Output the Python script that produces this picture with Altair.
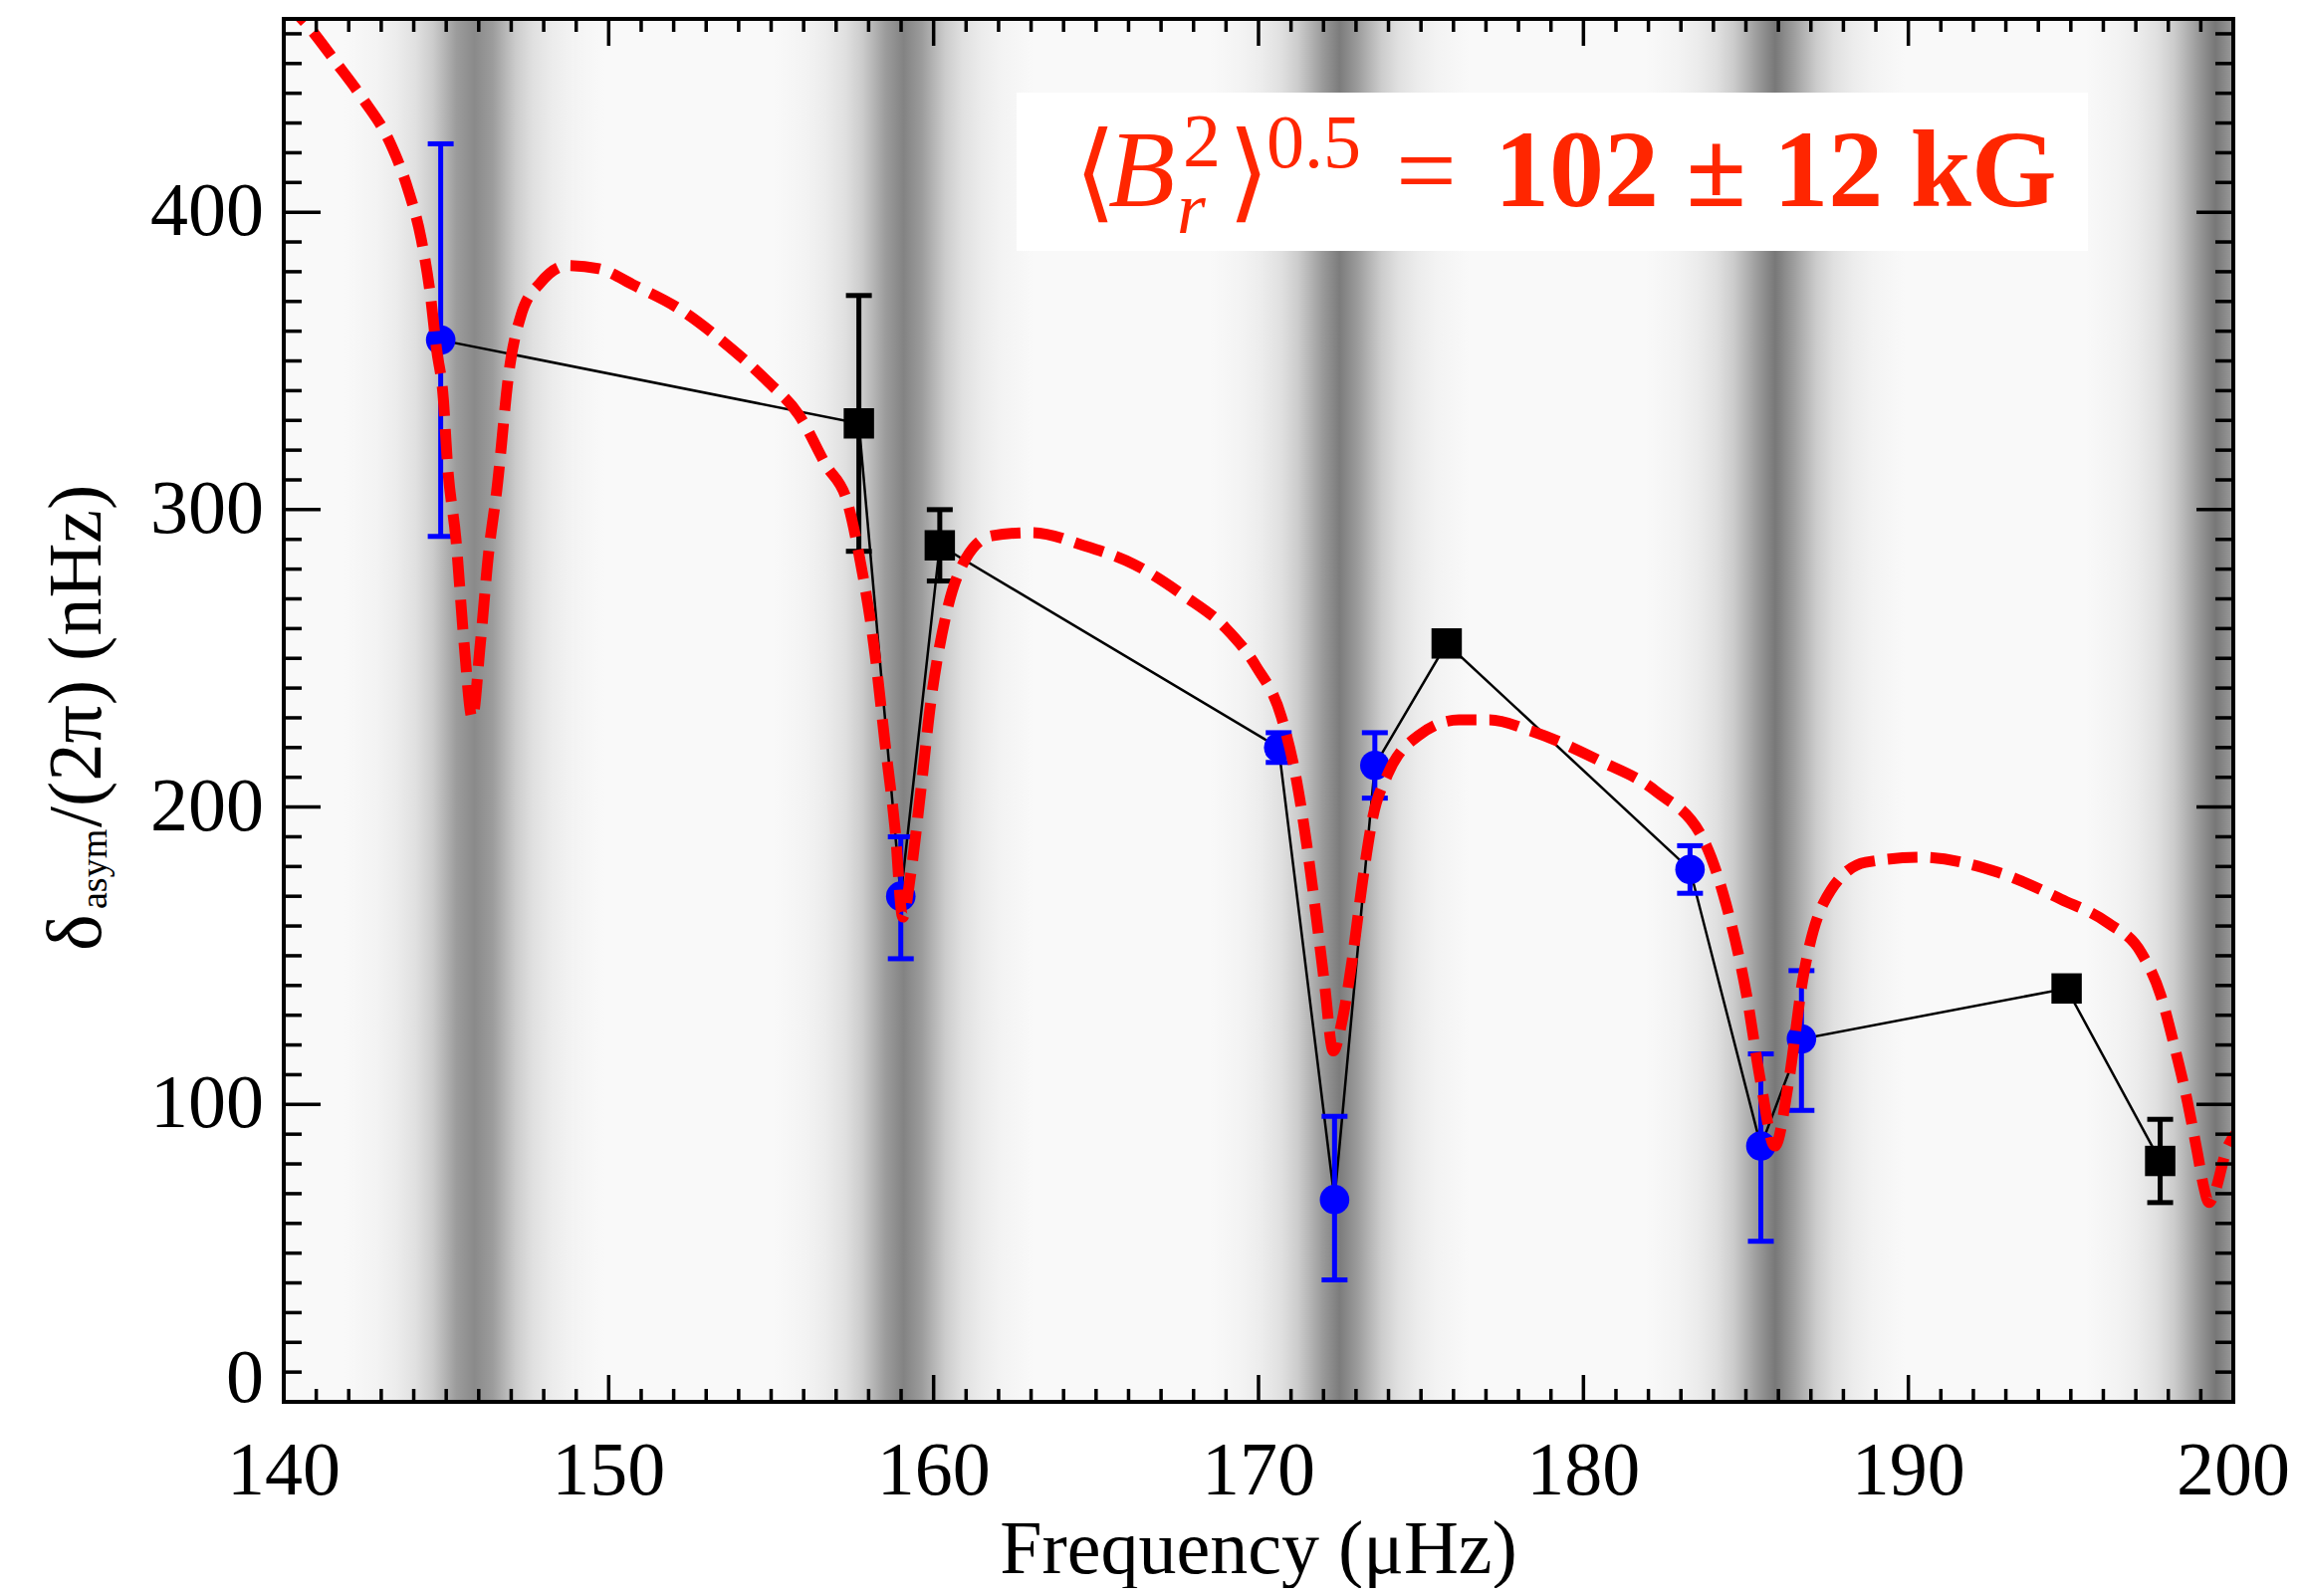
import altair as alt
import pandas as pd

# ---------------- data ----------------
blue_freq = [144.83, 158.99, 170.62, 172.34, 173.58, 183.28, 185.46, 186.71]
blue_val = [357, 170, 220, 68, 214, 179, 86, 122]
blue_lo = [291, 149, 215, 41, 203, 171, 54, 98]
blue_hi = [423, 190, 225, 96, 225, 187, 117, 145]

black_freq = [157.70, 160.19, 175.79, 194.87, 197.75]
black_val = [329, 288, 255, 139, 81]
black_lo = [286, 276, None, None, 67]
black_hi = [372, 300, None, None, 95]

model_freq = [140.0, 140.67, 141.62, 142.45, 143.27, 143.82, 144.23, 144.5, 144.7, 144.91,
              145.04, 145.3, 145.55, 145.8, 146.05, 146.3, 146.55, 146.96, 147.3, 147.92,
              148.74, 149.7, 150.79, 152.16, 153.53, 154.9, 155.85, 156.68, 157.36, 157.72,
              158.19, 158.5, 158.82, 159.05, 159.29, 159.6, 159.91, 160.38, 161.0, 161.79,
              163.04, 164.6, 166.17, 167.73, 168.98, 169.92, 170.7, 171.17, 171.48, 171.79,
              172.03, 172.3, 172.57, 172.89, 173.2, 173.51, 173.98, 174.92, 176.17, 177.11,
              178.36, 180.51, 182.23, 183.73, 184.38, 185.02, 185.45, 185.89, 186.32, 186.75,
              187.39, 188.68, 190.4, 192.77, 194.7, 196.13, 197.16, 197.77, 198.18, 198.59,
              198.89, 199.1, 199.25, 199.4, 199.81, 200.12]
model_val = [471, 463.6, 450.2, 437.9, 423.4, 407.8, 391.0, 373.2, 354.2, 337.5,
             315.1, 290, 255, 230, 255, 285, 306, 348.6, 365.3, 376.5,
             382.1, 381.0, 375.4, 367.6, 356.4, 343.0, 331.9, 315.1, 302, 284,
             252, 222, 192, 163, 177, 205, 235, 264.5, 283.7, 291.2,
             292.3, 288.0, 281.6, 270.9, 260.3, 247.4, 230.4, 209.0, 187.7, 162.0,
             140.7, 118, 128, 149.2, 174.9, 196.2, 211.1, 224.0, 229.3, 229.3,
             225.7, 215.5, 205.3, 188.2, 167.7, 136.9, 107.9, 86, 107.9, 142.0,
             167.7, 181.4, 183.1, 178.0, 169.0, 161.1, 151.1, 136.6, 119.9, 100.9,
             84.1, 71.9, 67, 69.6, 85.3, 90.8]

band_center = [145.87, 159.08, 172.50, 185.90, 199.45]
band_core = ["#8a8a8a", "#838383", "#7c7c7c", "#787878", "#777777"]

x_major = [140, 150, 160, 170, 180, 190, 200]
x_labels = ["140", "150", "160", "170", "180", "190", "200"]
y_major = [0, 100, 200, 300, 400]
y_labels = ["0", "100", "200", "300", "400"]
x_minor = [v for v in range(140, 201) if v % 10]
y_minor = [v for v in range(0, 466, 10) if v % 100]

x_title = "Frequency (μHz)"
y_title_parts = ["δ", "asym", "/(2π) (nHz)"]
annot_parts = ["⟨", "B", "r", "2", "⟩", "0.5", "=", "102 ± 12 kG"]

# ---------------- layout ----------------
W, H = 1958, 1389
SERIF = "Liberation Serif"
RED_TXT = "#ff2600"
FS = 76

xs = alt.Scale(domain=[140, 200], nice=False, zero=False)
ys = alt.Scale(domain=[0, 465], nice=False, zero=False)
one = pd.DataFrame({"t": [""]})


def xq(f):
    return alt.X(f, type="quantitative", scale=xs, axis=None)


def yq(f):
    return alt.Y(f, type="quantitative", scale=ys, axis=None)


layers = []

# background absorption bands (gradient rects)
for c, core in zip(band_center, band_core):
    grad = alt.LinearGradient(
        gradient="linear", x1=0, x2=1, y1=0, y2=0,
        stops=[
            alt.GradientStop(offset=0.0, color="#f9f9f9"),
            alt.GradientStop(offset=0.125, color="#f3f3f3"),
            alt.GradientStop(offset=0.2, color="#ececec"),
            alt.GradientStop(offset=0.275, color="#e0e0e0"),
            alt.GradientStop(offset=0.34, color="#cccccc"),
            alt.GradientStop(offset=0.39, color="#b2b2b2"),
            alt.GradientStop(offset=0.43, color="#9c9c9c"),
            alt.GradientStop(offset=0.5, color=core),
            alt.GradientStop(offset=0.57, color="#9c9c9c"),
            alt.GradientStop(offset=0.61, color="#b2b2b2"),
            alt.GradientStop(offset=0.66, color="#cccccc"),
            alt.GradientStop(offset=0.725, color="#e0e0e0"),
            alt.GradientStop(offset=0.8, color="#ececec"),
            alt.GradientStop(offset=0.875, color="#f3f3f3"),
            alt.GradientStop(offset=1.0, color="#f9f9f9"),
        ])
    dfb = pd.DataFrame({"lo": [c - 4], "hi": [c + 4]})
    layers.append(
        alt.Chart(dfb).mark_rect(fill=grad, clip=True).encode(
            x=xq("lo"), x2="hi", y=alt.value(0), y2=alt.value(H)))

# annotation white box
layers.append(alt.Chart(one).mark_rect(color="white").encode(
    x=alt.value(736), x2=alt.value(1812), y=alt.value(74), y2=alt.value(233)))

# connecting black line
pts = pd.DataFrame({"f": blue_freq + black_freq, "v": blue_val + black_val}).sort_values("f")
layers.append(alt.Chart(pts).mark_line(color="black", strokeWidth=2.5).encode(
    x=xq("f"), y=yq("v"), order="f:Q"))

# error bars
blue_df = pd.DataFrame({"f": blue_freq, "v": blue_val, "lo": blue_lo, "hi": blue_hi})
black_df = pd.DataFrame({"f": black_freq, "v": black_val, "lo": black_lo, "hi": black_hi}).dropna()
for dfe, col in [(blue_df, "#0000ff"), (black_df, "black")]:
    layers.append(alt.Chart(dfe).mark_rule(color=col, strokeWidth=5).encode(
        x=xq("f"), y=yq("lo"), y2="hi"))
    for end in ["lo", "hi"]:
        layers.append(alt.Chart(dfe).mark_rule(color=col, strokeWidth=5, xOffset=-13, x2Offset=13).encode(
            x=xq("f"), x2="f", y=yq(end)))

# points
layers.append(alt.Chart(blue_df).mark_point(shape="circle", filled=True, color="#0000ff",
                                            size=880, opacity=1).encode(x=xq("f"), y=yq("v")))
black_pts = pd.DataFrame({"f": black_freq, "v": black_val})
layers.append(alt.Chart(black_pts).mark_point(shape="square", filled=True, color="black",
                                              size=930, opacity=1).encode(x=xq("f"), y=yq("v")))

# model curve
model_df = pd.DataFrame({"f": model_freq, "v": model_val})
layers.append(alt.Chart(model_df).mark_line(color="#ff0000", strokeWidth=11, strokeDash=[30, 13],
                                            interpolate="monotone", clip=True).encode(
    x=xq("f"), y=yq("v"), order="f:Q"))

# frame
layers.append(alt.Chart(one).mark_rect(fillOpacity=0, stroke="black", strokeWidth=4).encode(
    x=alt.value(0), x2=alt.value(W), y=alt.value(0), y2=alt.value(H)))


# inward ticks on all four sides
def xtick(vals, length):
    d = pd.DataFrame({"v": vals})
    bot = alt.Chart(d).mark_rule(color="black", strokeWidth=3.5).encode(
        x=xq("v"), y=alt.value(H), y2=alt.value(H - length))
    top = alt.Chart(d).mark_rule(color="black", strokeWidth=3.5).encode(
        x=xq("v"), y=alt.value(0), y2=alt.value(length))
    return [bot, top]


def ytick(vals, length):
    d = pd.DataFrame({"v": vals})
    left = alt.Chart(d).mark_rule(color="black", strokeWidth=3.5).encode(
        y=yq("v"), x=alt.value(0), x2=alt.value(length))
    right = alt.Chart(d).mark_rule(color="black", strokeWidth=3.5).encode(
        y=yq("v"), x=alt.value(W), x2=alt.value(W - length))
    return [left, right]


layers += xtick(x_major, 27) + xtick(x_minor, 13) + ytick(y_major, 37) + ytick(y_minor, 18)

# tick labels (drawn through the scales)
xl = pd.DataFrame({"v": x_major, "lab": x_labels})
layers.append(alt.Chart(xl).mark_text(font=SERIF, fontSize=FS, color="black", align="center",
                                      baseline="alphabetic").encode(
    x=xq("v"), y=alt.value(H + 93), text="lab:N"))
yl = pd.DataFrame({"v": y_major[1:], "lab": y_labels[1:]})
layers.append(alt.Chart(yl).mark_text(font=SERIF, fontSize=FS, color="black", align="right",
                                      baseline="middle").encode(
    y=yq("v"), x=alt.value(-20), text="lab:N"))
y0 = pd.DataFrame({"v": y_major[:1], "lab": y_labels[:1]})
layers.append(alt.Chart(y0).mark_text(font=SERIF, fontSize=FS, color="black", align="right",
                                      baseline="alphabetic").encode(
    y=yq("v"), x=alt.value(-20), text="lab:N"))


def txt(text, x, y, size, font=SERIF, style="normal", weight="normal", color="black",
        angle=0, align="left", baseline="alphabetic"):
    d = pd.DataFrame({"t": [text]})
    return alt.Chart(d).mark_text(font=font, fontSize=size, fontStyle=style, fontWeight=weight,
                                  color=color, angle=angle, align=align, baseline=baseline).encode(
        x=alt.value(x), y=alt.value(y), text="t:N")


# annotation text
layers += [
    txt(annot_parts[0], 794, 190, 108, font="DejaVu Sans", color=RED_TXT),
    txt(annot_parts[1], 828, 188, 110, style="italic", color=RED_TXT),
    txt(annot_parts[2], 897, 215, 74, style="italic", color=RED_TXT),
    txt(annot_parts[3], 903, 148, 76, color=RED_TXT),
    txt(annot_parts[4], 948, 190, 108, font="DejaVu Sans", color=RED_TXT),
    txt(annot_parts[5], 987, 149, 76, color=RED_TXT),
    txt(annot_parts[6], 1117, 188, 108, color=RED_TXT),
    txt(annot_parts[7], 1216, 188, 110, weight="bold", color=RED_TXT),
]

# axis titles
layers += [
    txt(x_title, W / 2, 1561, FS, align="center"),
    txt(y_title_parts[0], -184, 936, 78, angle=270),
    txt(y_title_parts[1], -178, 894, 38, angle=270),
    txt(y_title_parts[2], -184, 812, FS, angle=270),
]

chart = alt.layer(*layers).properties(
    width=W, height=H,
    padding={"left": 277, "top": 11, "right": 58, "bottom": 187},
    autosize=alt.AutoSizeParams(type="none"),
    background="white",
).configure_view(fill="#f9f9f9", stroke="transparent")

chart.save("out.html", embed_options={"renderer": "svg", "actions": False})
